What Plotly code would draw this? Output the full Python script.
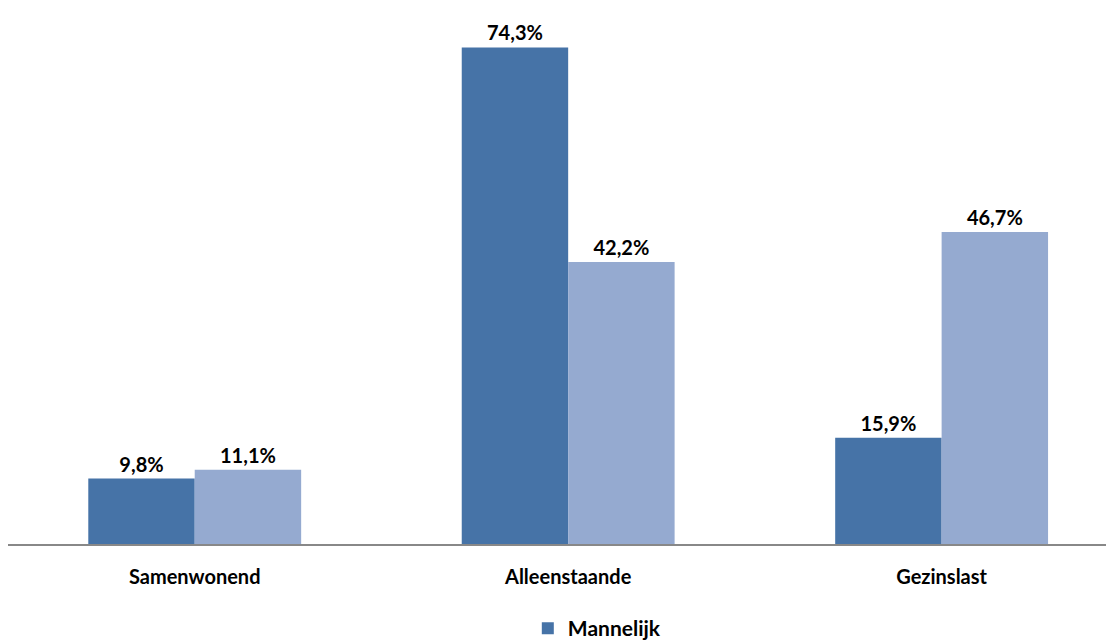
import plotly.graph_objects as go

categories = ["Samenwonend", "Alleenstaande", "Gezinslast"]
mannelijk = [9.8, 74.3, 15.9]
vrouwelijk = [11.1, 42.2, 46.7]

SERIES_COLORS = {"Mannelijk": "#4673A7", "Vrouwelijk": "#95AAD0"}
FONT = "Lato, Open Sans, sans-serif"


def pct_label(v):
    return f"{v:.1f}%".replace(".", ",")


fig = go.Figure()
fig.add_trace(go.Bar(
    name="Mannelijk",
    x=categories,
    y=mannelijk,
    marker_color=SERIES_COLORS["Mannelijk"],
    text=[pct_label(v) for v in mannelijk],
    textposition="outside",
    cliponaxis=False,
))
fig.add_trace(go.Bar(
    name="Vrouwelijk",
    x=categories,
    y=vrouwelijk,
    marker_color=SERIES_COLORS["Vrouwelijk"],
    text=[pct_label(v) for v in vrouwelijk],
    textposition="outside",
    cliponaxis=False,
    showlegend=False,  # legende is afgesneden in het origineel
))

fig.update_traces(
    marker_line_width=0,
    textfont=dict(family=FONT, size=20, color="#000000", weight="bold"),
)

fig.update_layout(
    width=1114,
    height=641,
    barmode="group",
    bargap=0.43,
    bargroupgap=0,
    plot_bgcolor="white",
    paper_bgcolor="white",
    margin=dict(l=0, r=0, t=0, b=102),
    font=dict(family=FONT, size=20, color="#000000"),
    xaxis=dict(
        range=[-0.5, 2.483],
        showline=True,
        linecolor="#888888",
        linewidth=1.5,
        ticks="",
        ticklabelstandoff=14,
        tickfont=dict(family=FONT, size=20, color="#000000", weight="bold"),
    ),
    yaxis=dict(
        range=[0, 80.2],
        visible=False,
        showgrid=False,
    ),
    legend=dict(
        orientation="h",
        x=0.529,
        xanchor="center",
        y=-0.12,
        yanchor="top",
        font=dict(family=FONT, size=21, color="#000000", weight="bold"),
        itemwidth=30,
    ),
    showlegend=True,
)

fig.write_html("out.html")
